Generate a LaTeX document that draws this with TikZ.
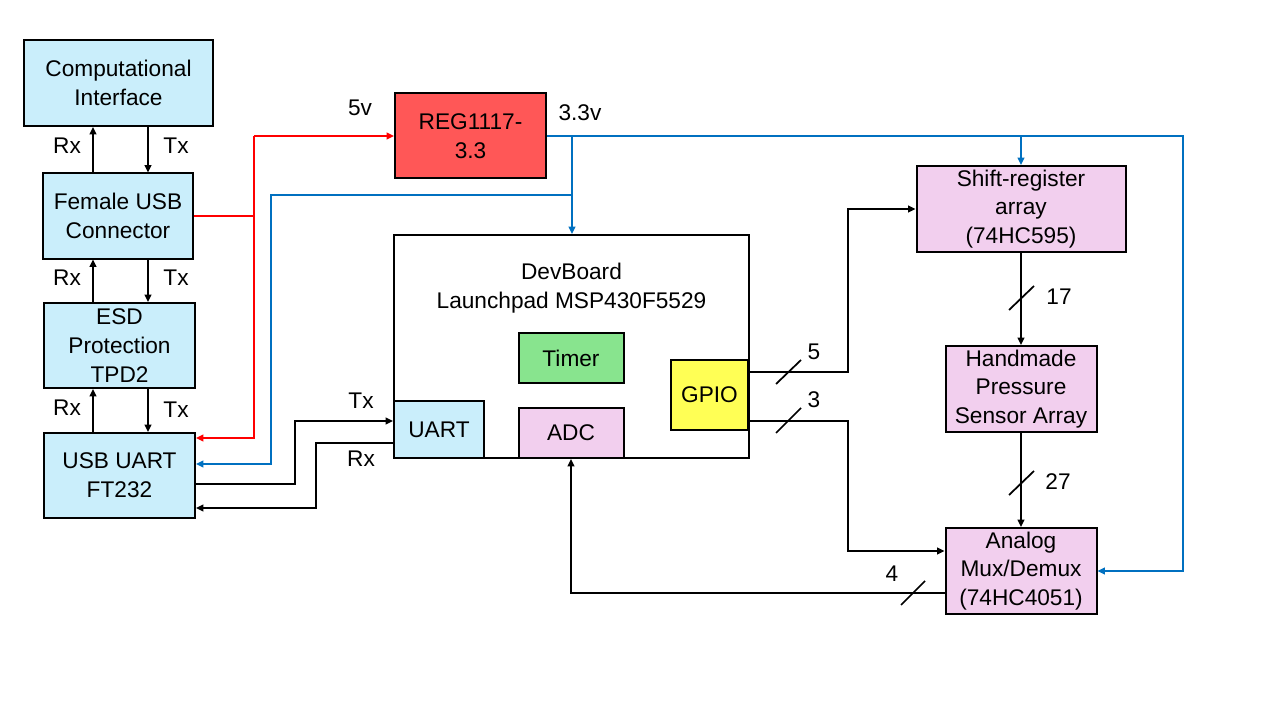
\documentclass[tikz,border=0pt]{standalone}
\usepackage{fontspec}
\setmainfont{Liberation Sans}
\usetikzlibrary{arrows.meta}

\definecolor{boxblue}{RGB}{202,238,251}
\definecolor{boxpink}{RGB}{242,207,238}
\definecolor{boxred}{RGB}{255,87,87}
\definecolor{boxgreen}{RGB}{136,228,142}
\definecolor{boxyellow}{RGB}{255,255,85}
\definecolor{wirered}{RGB}{255,0,0}
\definecolor{wireblue}{RGB}{0,112,192}

\begin{document}
\begin{tikzpicture}[x=0.75pt, y=-0.75pt,
    every node/.style={font=\fontsize{17}{21.5}\selectfont}, % Set global font size
    block/.style={draw, line width=1.5pt, inner sep=0pt, align=center},
    wire/.style={line width=1.3pt},
    sig/.style={wire, -{Triangle[length=5.5pt,width=5pt]}},
    pwrfive/.style={sig, wirered},
    pwrthree/.style={sig, wireblue}]

    % --- Canvas ---
    \useasboundingbox (0,0) rectangle (1280,720);

    % --- Blocks ---
    % USB chain on the left
    \node[block, fill=boxblue, minimum width=141.75pt, minimum height=64.5pt] (comp) at (118.5,83) {Computational\\Interface};
    \node[block, fill=boxblue, minimum width=112.5pt, minimum height=63.75pt] (fusb) at (118,216) {Female USB\\Connector};
    \node[block, fill=boxblue, minimum width=113.25pt, minimum height=63.75pt] (esd) at (119.5,345.5) {ESD\\Protection\\TPD2};
    \node[block, fill=boxblue, minimum width=113.25pt, minimum height=63.75pt] (ftdi) at (119.5,475.5) {USB UART\\FT232};

    % Regulator
    \node[block, fill=boxred, minimum width=113.25pt, minimum height=63.75pt] (reg) at (470.5,136) {REG1117-\\3.3};

    % DevBoard and its peripherals
    \node[block, minimum width=266.25pt, minimum height=167.25pt] (dev) at (571.5,346.5) {};
    \node[align=center] (devname) at (571.5,288) {DevBoard\\Launchpad MSP430F5529};
    \node[block, fill=boxgreen, minimum width=78.75pt, minimum height=37.5pt] (timer) at (571,358) {Timer};
    \node[block, fill=boxblue, minimum width=67.5pt, minimum height=42.75pt] (uart) at (439,429.5) {UART};
    \node[block, fill=boxpink, minimum width=78.75pt, minimum height=37.5pt] (adc) at (571,433) {ADC};
    \node[block, fill=boxyellow, minimum width=57.75pt, minimum height=52.5pt] (gpio) at (709.5,395) {GPIO};

    % Sensor side
    \node[block, fill=boxpink, minimum width=156.75pt, minimum height=64.5pt] (shift) at (1021,209) {Shift-register\\array\\(74HC595)};
    \node[block, fill=boxpink, minimum width=113.25pt, minimum height=64.5pt] (hand) at (1021,389) {Handmade\\Pressure\\Sensor Array};
    \node[block, fill=boxpink, minimum width=113.25pt, minimum height=64.5pt] (mux) at (1021,571) {Analog\\Mux/Demux\\(74HC4051)};

    % --- Rails ---
    \coordinate (rxline) at (93,0);
    \coordinate (txline) at (148,0);
    \coordinate (redrail) at (254,0);
    \coordinate (devdrop) at (572,0);
    \coordinate (bluerail) at (271,0);
    \coordinate (rightrail) at (1183,0);

    % --- Rx / Tx between the USB blocks ---
    \draw[sig] (fusb.north -| rxline) -- (comp.south -| rxline);
    \draw[sig] (comp.south -| txline) -- (fusb.north -| txline);
    \draw[sig] (esd.north -| rxline) -- (fusb.south -| rxline);
    \draw[sig] (fusb.south -| txline) -- (esd.north -| txline);
    \draw[sig] (ftdi.north -| rxline) -- (esd.south -| rxline);
    \draw[sig] (esd.south -| txline) -- (ftdi.north -| txline);

    \node (rx1) at (67,146) {Rx};
    \node (tx1) at (176,146) {Tx};
    \node (rx2) at (67,278) {Rx};
    \node (tx2) at (176,278) {Tx};
    \node (rx3) at (67,408) {Rx};
    \node (tx3) at (176,410) {Tx};

    % --- 5v supply ---
    \draw[wire, wirered] (fusb.east) -- (fusb.east -| redrail);
    \draw[pwrfive] (redrail |- reg.west) -- (reg.west);
    \draw[pwrfive] (redrail |- reg.west) -- (redrail |- 0,438) -- (ftdi.east |- 0,438);
    \node (v5) at (360,108) {5v};

    % --- 3.3v supply ---
    \draw[pwrthree] (reg.east) -- (reg.east -| rightrail) |- (mux.east);
    \draw[pwrthree] (reg.east -| shift.north) -- (shift.north);
    \draw[pwrthree] (reg.east -| devdrop) -- (dev.north -| devdrop);
    \draw[pwrthree] (devdrop |- 0,195) -- (bluerail |- 0,195) -- (bluerail |- 0,464) -- (ftdi.east |- 0,464);
    \node (v33) at (580,113) {3.3v};

    % --- UART link ---
    \draw[sig] (ftdi.east |- 0,484) -- (295,484) |- (uart.west |- 0,421);
    \draw[sig] (uart.west |- 0,443) -- (316,443) |- (ftdi.east |- 0,508);
    \node (txu) at (361,401) {Tx};
    \node (rxu) at (361,459) {Rx};

    % --- GPIO buses ---
    \draw[sig] (gpio.east |- 0,372) -- (848,372) |- (shift.west);
    \draw[sig] (gpio.east |- 0,421) -- (848,421) |- (mux.west |- 0,551);
    \draw[wire] (776,384) -- (801,360);
    \draw[wire] (776,433) -- (801,408);
    \node (n5) at (814,352) {5};
    \node (n3) at (814,400) {3};

    % --- Sensor chain ---
    \draw[sig] (shift.south) -- (hand.north);
    \draw[sig] (hand.south) -- (mux.north);
    \draw[wire] (1009,310) -- (1034,286);
    \draw[wire] (1009,495) -- (1034,471);
    \node (n17) at (1059,297) {17};
    \node (n27) at (1058,482) {27};

    % --- Analog return to the ADC ---
    \draw[sig] (mux.west |- 0,593) -| (adc.south);
    \draw[wire] (901,605) -- (925,581);
    \node (n4) at (892,574) {4};

\end{tikzpicture}
\end{document}
